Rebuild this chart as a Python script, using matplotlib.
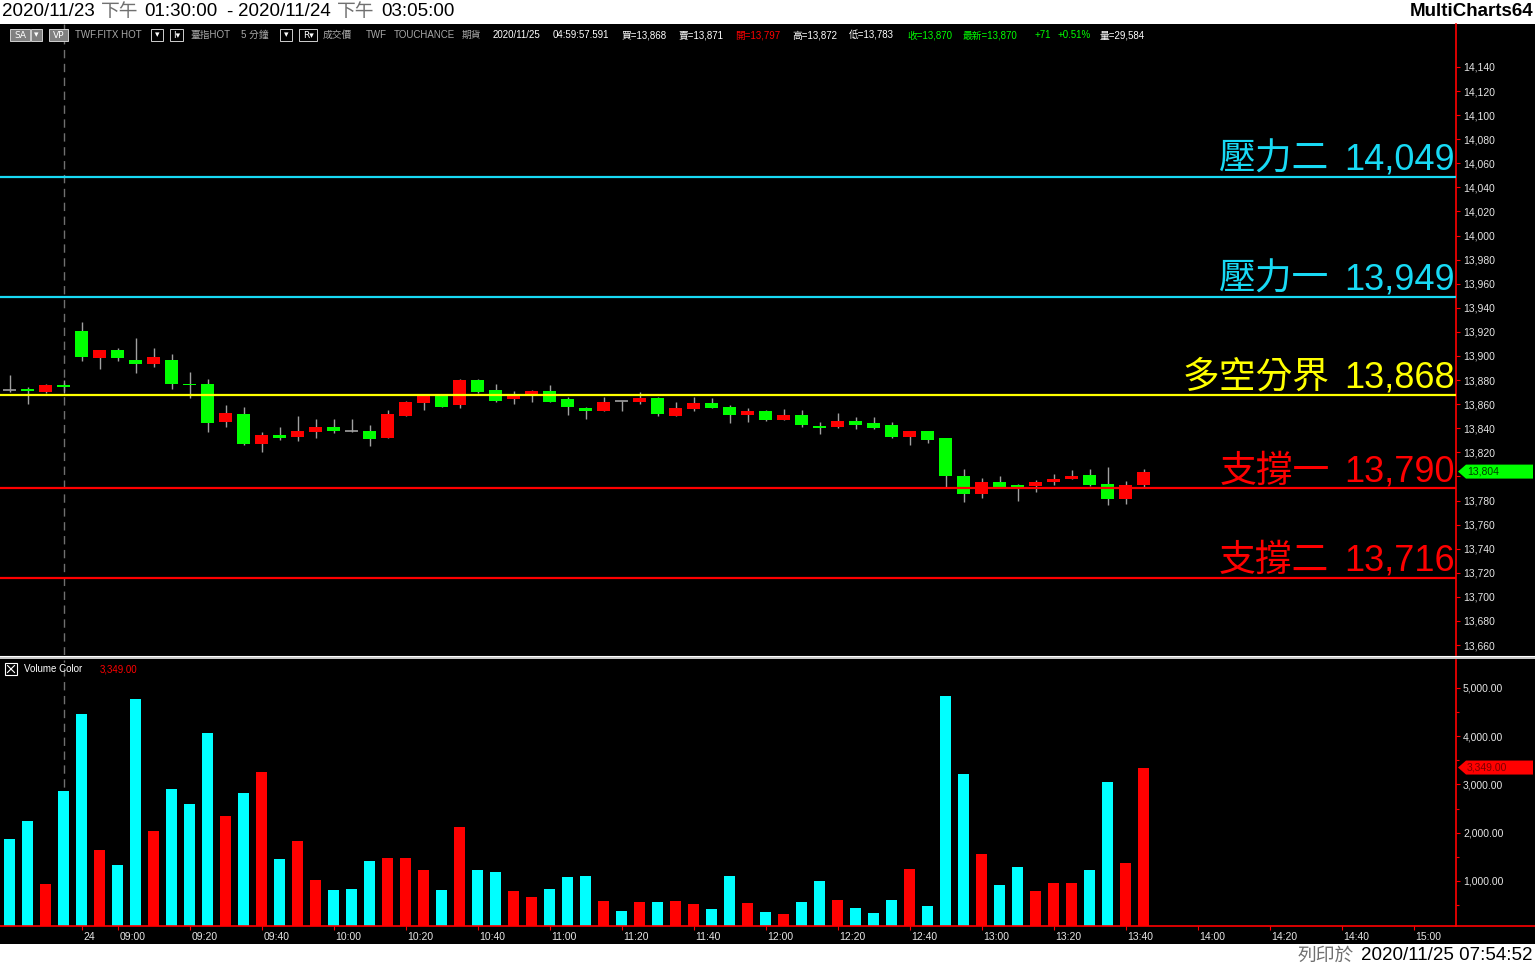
import matplotlib
matplotlib.use('Agg')
import matplotlib.pyplot as plt
import numpy as np
from matplotlib.patches import Rectangle, Polygon
from matplotlib.lines import Line2D
from matplotlib.ticker import FixedLocator
import matplotlib.transforms as mtransforms

W, H = 1535, 966
plt.rcParams['font.family'] = ['Liberation Sans', 'Noto Sans CJK TC', 'DejaVu Sans']

# ---------------- data ----------------
opens = [13872, 13873, 13870, 13876, 13921, 13898, 13905, 13897, 13893, 13897,
         13877, 13877, 13845, 13852, 13827, 13834, 13833, 13837, 13841, 13838,
         13838, 13832, 13850, 13861, 13867, 13859, 13880, 13872, 13864, 13868,
         13871, 13864, 13857, 13854, 13863, 13862, 13865, 13850, 13856, 13861,
         13858, 13851, 13854, 13847, 13851, 13842, 13841, 13846, 13844, 13843,
         13833, 13838, 13832, 13800, 13785, 13795, 13793, 13792, 13795, 13798,
         13801, 13794, 13781, 13793]
highs = [13884, 13874, 13877, 13880, 13928, 13905, 13907, 13915, 13907, 13902,
         13887, 13881, 13859, 13858, 13837, 13841, 13850, 13848, 13848, 13848,
         13843, 13855, 13863, 13868, 13868, 13881, 13881, 13877, 13871, 13872,
         13876, 13866, 13858, 13866, 13863, 13870, 13866, 13862, 13866, 13865,
         13859, 13857, 13855, 13856, 13855, 13845, 13853, 13849, 13849, 13845,
         13838, 13838, 13832, 13806, 13799, 13800, 13794, 13797, 13802, 13805,
         13806, 13808, 13796, 13806]
lows = [13870, 13860, 13869, 13869, 13896, 13889, 13896, 13886, 13891, 13873,
        13865, 13837, 13841, 13826, 13820, 13830, 13829, 13832, 13836, 13837,
        13825, 13832, 13850, 13855, 13858, 13857, 13869, 13862, 13860, 13862,
        13862, 13851, 13848, 13854, 13854, 13860, 13850, 13850, 13854, 13857,
        13844, 13845, 13846, 13847, 13841, 13835, 13840, 13839, 13839, 13832,
        13826, 13828, 13791, 13779, 13782, 13790, 13780, 13787, 13793, 13798,
        13792, 13776, 13777, 13790]
closes = [13872, 13871, 13876, 13874, 13899, 13905, 13898, 13893, 13899, 13877,
          13876, 13844, 13853, 13827, 13834, 13832, 13838, 13841, 13838, 13838,
          13831, 13852, 13862, 13867, 13858, 13880, 13870, 13863, 13867, 13871,
          13862, 13858, 13854, 13862, 13863, 13865, 13852, 13857, 13861, 13857,
          13851, 13854, 13847, 13851, 13843, 13840, 13846, 13843, 13840, 13833,
          13838, 13830, 13800, 13785, 13795, 13791, 13791, 13795, 13798, 13800,
          13793, 13781, 13793, 13804]
volumes = [1865, 2238, 933, 2860, 4456, 1637, 1326, 4767, 2031, 2902,
           2591, 4062, 2342, 2819, 3254, 1451, 1824, 1016, 808, 829,
           1409, 1471, 1471, 1223, 808, 2114, 1223, 1181, 788, 663,
           829, 1078, 1099, 580, 373, 560, 560, 580, 518, 415,
           1099, 539, 352, 311, 560, 995, 601, 435, 332, 601,
           1244, 477, 4829, 3212, 1554, 912, 1285, 788, 953, 953,
           1223, 3047, 1368, 3349]

level_values = [14049, 13949, 13868, 13790, 13716]
level_names = ['壓力二', '壓力一', '多空分界', '支撐一', '支撐二']
level_colors = ['#18DAF5', '#18DAF5', '#FFFF00', '#FF0000', '#FF0000']

session_break = 3
time_tick_labels = ['24', '09:00', '09:20', '09:40', '10:00', '10:20', '10:40', '11:00',
                    '11:20', '11:40', '12:00', '12:20', '12:40', '13:00', '13:20',
                    '13:40', '14:00', '14:20', '14:40', '15:00']
time_tick_index = [4] + list(range(6, 79, 4))

price_ticks = list(range(13660, 14141, 20))
vol_ticks = [1000, 2000, 3000, 4000, 5000]
last_volume = 3349

# ---------------- figure ----------------
fig = plt.figure(figsize=(W / 100, H / 100), dpi=100, facecolor='white')
renderer = fig.canvas.get_renderer()

def F(x, y):
    return (x / W, 1 - y / H)

fig.patches.append(Rectangle(F(0, 944), 1, (944 - 24) / H, transform=fig.transFigure,
                             facecolor='black', edgecolor='none', zorder=-5))

x_left, x_right = -9.5 / 18, (1456 - 9.5) / 18
ax1 = fig.add_axes([0, 1 - 655 / H, 1456 / W, (655 - 24) / H])
ax2 = fig.add_axes([0, 1 - 926 / H, 1456 / W, (926 - 660) / H])
for ax in (ax1, ax2):
    ax.set_facecolor('black')
    ax.set_xlim(x_left, x_right)
    for s in ('top', 'left', 'bottom'):
        ax.spines[s].set_visible(False)
    ax.spines['right'].set_color('#FF0000')
    ax.spines['right'].set_linewidth(1.2)
    ax.yaxis.tick_right()
    ax.tick_params(axis='y', which='both', direction='out', colors='#FF0000',
                   labelcolor='#E6E6E6', labelsize=7.5, length=3, width=0.8, pad=2)

ax1.set_ylim(13651.7, 14175.7)
ax1.set_yticks(price_ticks)
ax1.set_yticklabels([f'{v:,}' for v in price_ticks])
ax1.set_xticks([])

vol_px = 48.25 / 1000
ax2.set_ylim(65, 65 + (926 - 660) / vol_px)
ax2.yaxis.set_major_locator(FixedLocator(vol_ticks))
ax2.yaxis.set_minor_locator(FixedLocator([500, 1500, 2500, 3500, 4500]))
ax2.set_yticklabels([f'{v:,.2f}' for v in vol_ticks])
ax2.tick_params(axis='y', which='minor', length=2)

# x ticks on volume axes
ax2.set_xticks(time_tick_index)
ax2.set_xticklabels(time_tick_labels)
ax2.tick_params(axis='x', direction='out', colors='#FF0000', labelcolor='#E6E6E6',
                labelsize=7.5, length=3, width=0.8, pad=1)
offset = mtransforms.ScaledTranslation(2 / 100, 0, fig.dpi_scale_trans)
for lab in ax2.get_xticklabels():
    lab.set_horizontalalignment('left')
    lab.set_transform(lab.get_transform() + offset)

# x axis red line across full width
fig.lines.append(Line2D([0, 1], [1 - 926 / H, 1 - 926 / H], transform=fig.transFigure,
                        color='#FF0000', lw=1.2, zorder=5))
# panel separator
fig.patches.append(Rectangle(F(0, 659), 1, 3.5 / H, transform=fig.transFigure,
                             facecolor='#C8C8C8', edgecolor='none', zorder=5))
fig.lines.append(Line2D([0, 1], [1 - 656 / H, 1 - 656 / H], transform=fig.transFigure,
                        color='#FFFFFF', lw=0.8, zorder=6))

# session break dashed line
for ax in (ax1, ax2):
    ax.axvline(session_break, color='#707070', lw=1, ls=(0, (6, 4)), zorder=1)

# ---------------- candles ----------------
o = np.array(opens); h = np.array(highs); l = np.array(lows); c = np.array(closes)
xi = np.arange(len(o))
ax1.vlines(xi, l, h, color='#A0A0A0', lw=1, zorder=2)
up = c > o
down = c < o
flat = c == o
body_w = 13 / 18
ax1.bar(xi[up], (c - o)[up], bottom=o[up], width=body_w, color='#FF0000', zorder=3, linewidth=0)
ax1.bar(xi[down], (o - c)[down], bottom=c[down], width=body_w, color='#00FF00', zorder=3, linewidth=0)
ax1.hlines(c[flat], xi[flat] - body_w / 2, xi[flat] + body_w / 2, color='#A0A0A0', lw=1.2, zorder=3)

# ---------------- levels ----------------
for val, name, col in zip(level_values, level_names, level_colors):
    ax1.axhline(val, color=col, lw=1.6, zorder=4)
    t_val = ax1.annotate(f'{val:,}', xy=(1.0, val), xycoords=('axes fraction', 'data'),
                         xytext=(-1, 7), textcoords='offset pixels', ha='right', va='baseline',
                         color=col, fontsize=26, zorder=5)
    wv = t_val.get_window_extent(renderer).width
    ax1.annotate(name, xy=(1.0, val), xycoords=('axes fraction', 'data'),
                 xytext=(-1 - wv - 15, 7), textcoords='offset pixels', ha='right', va='baseline',
                 color=col, fontsize=26.5, fontweight='light', zorder=5)

# ---------------- volume bars ----------------
v = np.array(volumes)
vcol = np.where(up, '#FF0000', '#00FFFF')
ax2.bar(xi, v, width=11 / 18, color=vcol, linewidth=0, zorder=2)

# ---------------- tags ----------------
def ypix(ax, val):
    return H - ax.transData.transform((0, val))[1]

# hide the price label that sits beneath the last-price tag
for tick_val, lab in zip(price_ticks, ax1.get_yticklabels()):
    if abs(tick_val - closes[-1]) < 10:
        lab.set_visible(False)

yp = ypix(ax1, closes[-1])
fig.patches.append(Polygon([F(1458, yp), F(1466, yp - 7), F(1533, yp - 7), F(1533, yp + 7), F(1466, yp + 7)],
                           closed=True, transform=fig.transFigure, facecolor='#00FF00',
                           edgecolor='none', zorder=6))
fig.text(*F(1467, yp), f'{closes[-1]:,}', color='#004000', fontsize=7.5, va='center', ha='left', zorder=7)

yv = ypix(ax2, last_volume)
fig.patches.append(Polygon([F(1458, yv), F(1466, yv - 7), F(1533, yv - 7), F(1533, yv + 7), F(1466, yv + 7)],
                           closed=True, transform=fig.transFigure, facecolor='#FF0000',
                           edgecolor='none', zorder=6))
fig.text(*F(1467, yv), f'{last_volume:,.2f}', color='#7A0000', fontsize=7.5, va='center', ha='left', zorder=7)

# ---------------- title strip ----------------
title_parts = [('2020/11/23', '#000000', 2), ('下午', '#707070', 101), ('01:30:00', '#000000', 144),
               ('-', '#000000', 226), ('2020/11/24', '#000000', 238), ('下午', '#707070', 337),
               ('03:05:00', '#000000', 381)]
for t, col, x in title_parts:
    fig.text(*F(x, 12), t, color=col, fontsize=13.5, va='center', ha='left')
fig.text(*F(1533, 12), 'MultiCharts64', color='#000000', fontsize=13.5, fontweight='bold',
         va='center', ha='right')

bottom_parts = [('列印於', '#707070', 1298), ('2020/11/25 07:54:52', '#000000', 1361)]
for t, col, x in bottom_parts:
    fig.text(*F(x, 956), t, color=col, fontsize=13.5, va='center', ha='left')

# ---------------- header info line ----------------
def box(x0, x1, fill, label, tcol='#FFFFFF'):
    fig.patches.append(Rectangle(F(x0, 41), (x1 - x0) / W, 12 / H, transform=fig.transFigure,
                                 facecolor=fill, edgecolor='#D0D0D0', lw=0.7, zorder=6))
    fig.text(*F((x0 + x1) / 2, 35), label, color=tcol, fontsize=6.5, va='center', ha='center',
             family=['DejaVu Sans'], zorder=7)

box(10, 30, '#808080', 'SA')
box(31, 42, '#808080', '▾')
box(49, 68, '#808080', 'VP')
box(151, 163, '#000000', '▾')
box(170, 183, '#000000', 'I▾')
box(280, 292, '#000000', '▾')
box(299, 317, '#000000', 'R▾')

header_parts = [('TWF.FITX HOT', '#A8A8A8', 75), ('臺指HOT', '#A8A8A8', 190), ('5 分鐘', '#A8A8A8', 241),
                ('成交價', '#A8A8A8', 323), ('TWF', '#A8A8A8', 366), ('TOUCHANCE', '#A8A8A8', 394),
                ('期貨', '#A8A8A8', 462), ('2020/11/25', '#FFFFFF', 493), ('04:59:57.591', '#FFFFFF', 553),
                ('買=13,868', '#FFFFFF', 622), ('賣=13,871', '#FFFFFF', 679), ('開=13,797', '#FF0000', 735),
                ('高=13,872', '#FFFFFF', 792), ('低=13,783', '#FFFFFF', 849), ('收=13,870', '#00FF00', 907),
                ('最新=13,870', '#00FF00', 963), ('+71', '#00FF00', 1035), ('+0.51%', '#00FF00', 1058),
                ('量=29,584', '#FFFFFF', 1100)]
for t, col, x in header_parts:
    fig.text(*F(x, 35), t, color=col, fontsize=7, va='center', ha='left', zorder=7)

# volume panel label
fig.patches.append(Rectangle(F(5, 675), 12 / W, 12 / H, transform=fig.transFigure,
                             facecolor='none', edgecolor='#FFFFFF', lw=0.8, zorder=7))
fig.lines.append(Line2D([7.5 / W, 14.5 / W], [1 - 665.5 / H, 1 - 672.5 / H], transform=fig.transFigure,
                        color='#FFFFFF', lw=0.8, zorder=7))
fig.lines.append(Line2D([7.5 / W, 14.5 / W], [1 - 672.5 / H, 1 - 665.5 / H], transform=fig.transFigure,
                        color='#FFFFFF', lw=0.8, zorder=7))
fig.text(*F(24, 669), 'Volume Color', color='#FFFFFF', fontsize=7, va='center', ha='left', zorder=7)
fig.text(*F(100, 669), f'{last_volume:,.2f}', color='#FF0000', fontsize=7, va='center', ha='left', zorder=7)

fig.savefig('out.png', dpi=100, facecolor='white')
